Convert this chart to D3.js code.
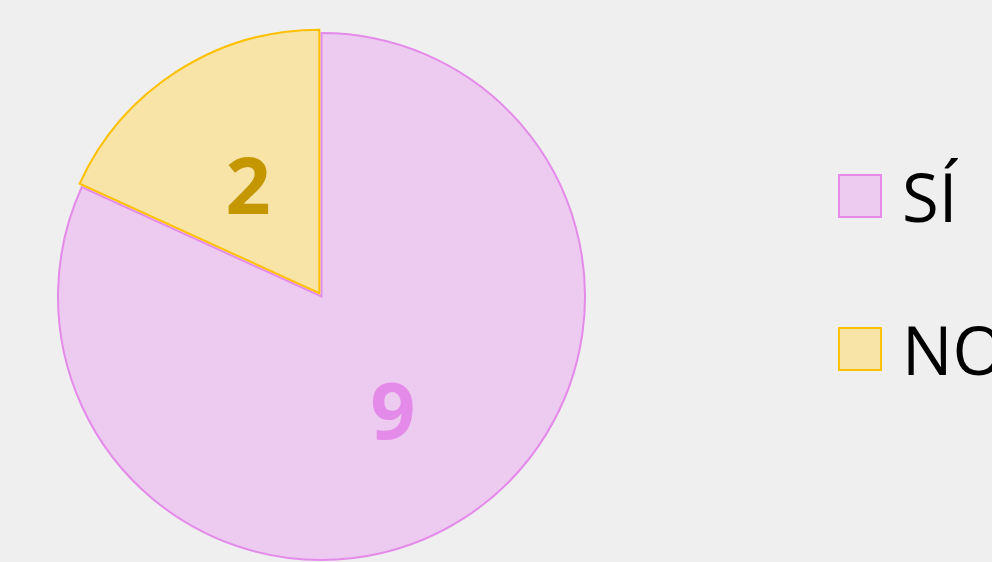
<!DOCTYPE html>
<html>
<head>
<meta charset="utf-8">
<script src="https://cdn.jsdelivr.net/npm/d3@7"></script>
<style>
html,body{margin:0;padding:0;background:#efefef;overflow:hidden;}
svg{display:block;}
</style>
</head>
<body>
<svg id="chart" width="992" height="562"></svg>
<script>
const categories = ["SÍ", "NO"];
const values = [9, 2];
const fills = ["#edcbf0", "#f7e4a6"];
const strokes = ["#e48be9", "#ffc000"];
const labelColors = ["#e48be9", "#c49600"];

const svg = d3.select("#chart");
const W = 992, H = 562;
svg.append("rect").attr("width", W).attr("height", H).attr("fill", "#efefef");

const cx = 321.5, cy = 296.5, r = 263.5;
const data = categories.map((c, i) => ({cat: c, value: values[i], i}));
const pie = d3.pie().value(d => d.value).sort(null).startAngle(0).endAngle(2 * Math.PI);
const arcs = pie(data);
const arc = d3.arc().innerRadius(0).outerRadius(r);
const explode = [0, 4];

const g = svg.append("g").attr("transform", `translate(${cx},${cy})`);
const slices = g.selectAll("g.slice").data(arcs).join("g").attr("class", "slice")
  .attr("transform", d => {
    const e = explode[d.data.i];
    const a = (d.startAngle + d.endAngle) / 2;
    return `translate(${e * Math.sin(a)},${-e * Math.cos(a)})`;
  });
slices.append("path").attr("d", arc)
  .attr("fill", d => fills[d.data.i])
  .attr("stroke", d => strokes[d.data.i])
  .attr("stroke-width", 2)
  .attr("stroke-linejoin", "miter");

slices.append("text")
  .attr("transform", d => { const c = arc.centroid(d); return `translate(${c[0]},${c[1] + 1})`; })
  .attr("text-anchor", "middle")
  .attr("dominant-baseline", "central")
  .attr("font-family", "'Open Sans', 'Noto Sans', sans-serif")
  .attr("font-weight", "bold")
  .attr("font-size", 79)
  .attr("fill", d => labelColors[d.data.i])
  .text(d => d.data.value);

// legend
const lg = svg.append("g");
const items = lg.selectAll("g").data(data).join("g")
  .attr("transform", (d, i) => `translate(839,${175 + i * 153})`);
items.append("rect").attr("width", 42).attr("height", 42)
  .attr("fill", d => fills[d.i]).attr("stroke", d => strokes[d.i]).attr("stroke-width", 2);
items.append("text").attr("x", 63).attr("y", 21)
  .attr("dominant-baseline", "central")
  .attr("font-family", "'Open Sans', 'Noto Sans', sans-serif")
  .attr("font-size", 67)
  .attr("fill", "#000")
  .text(d => d.cat);
</script>
</body>
</html>
